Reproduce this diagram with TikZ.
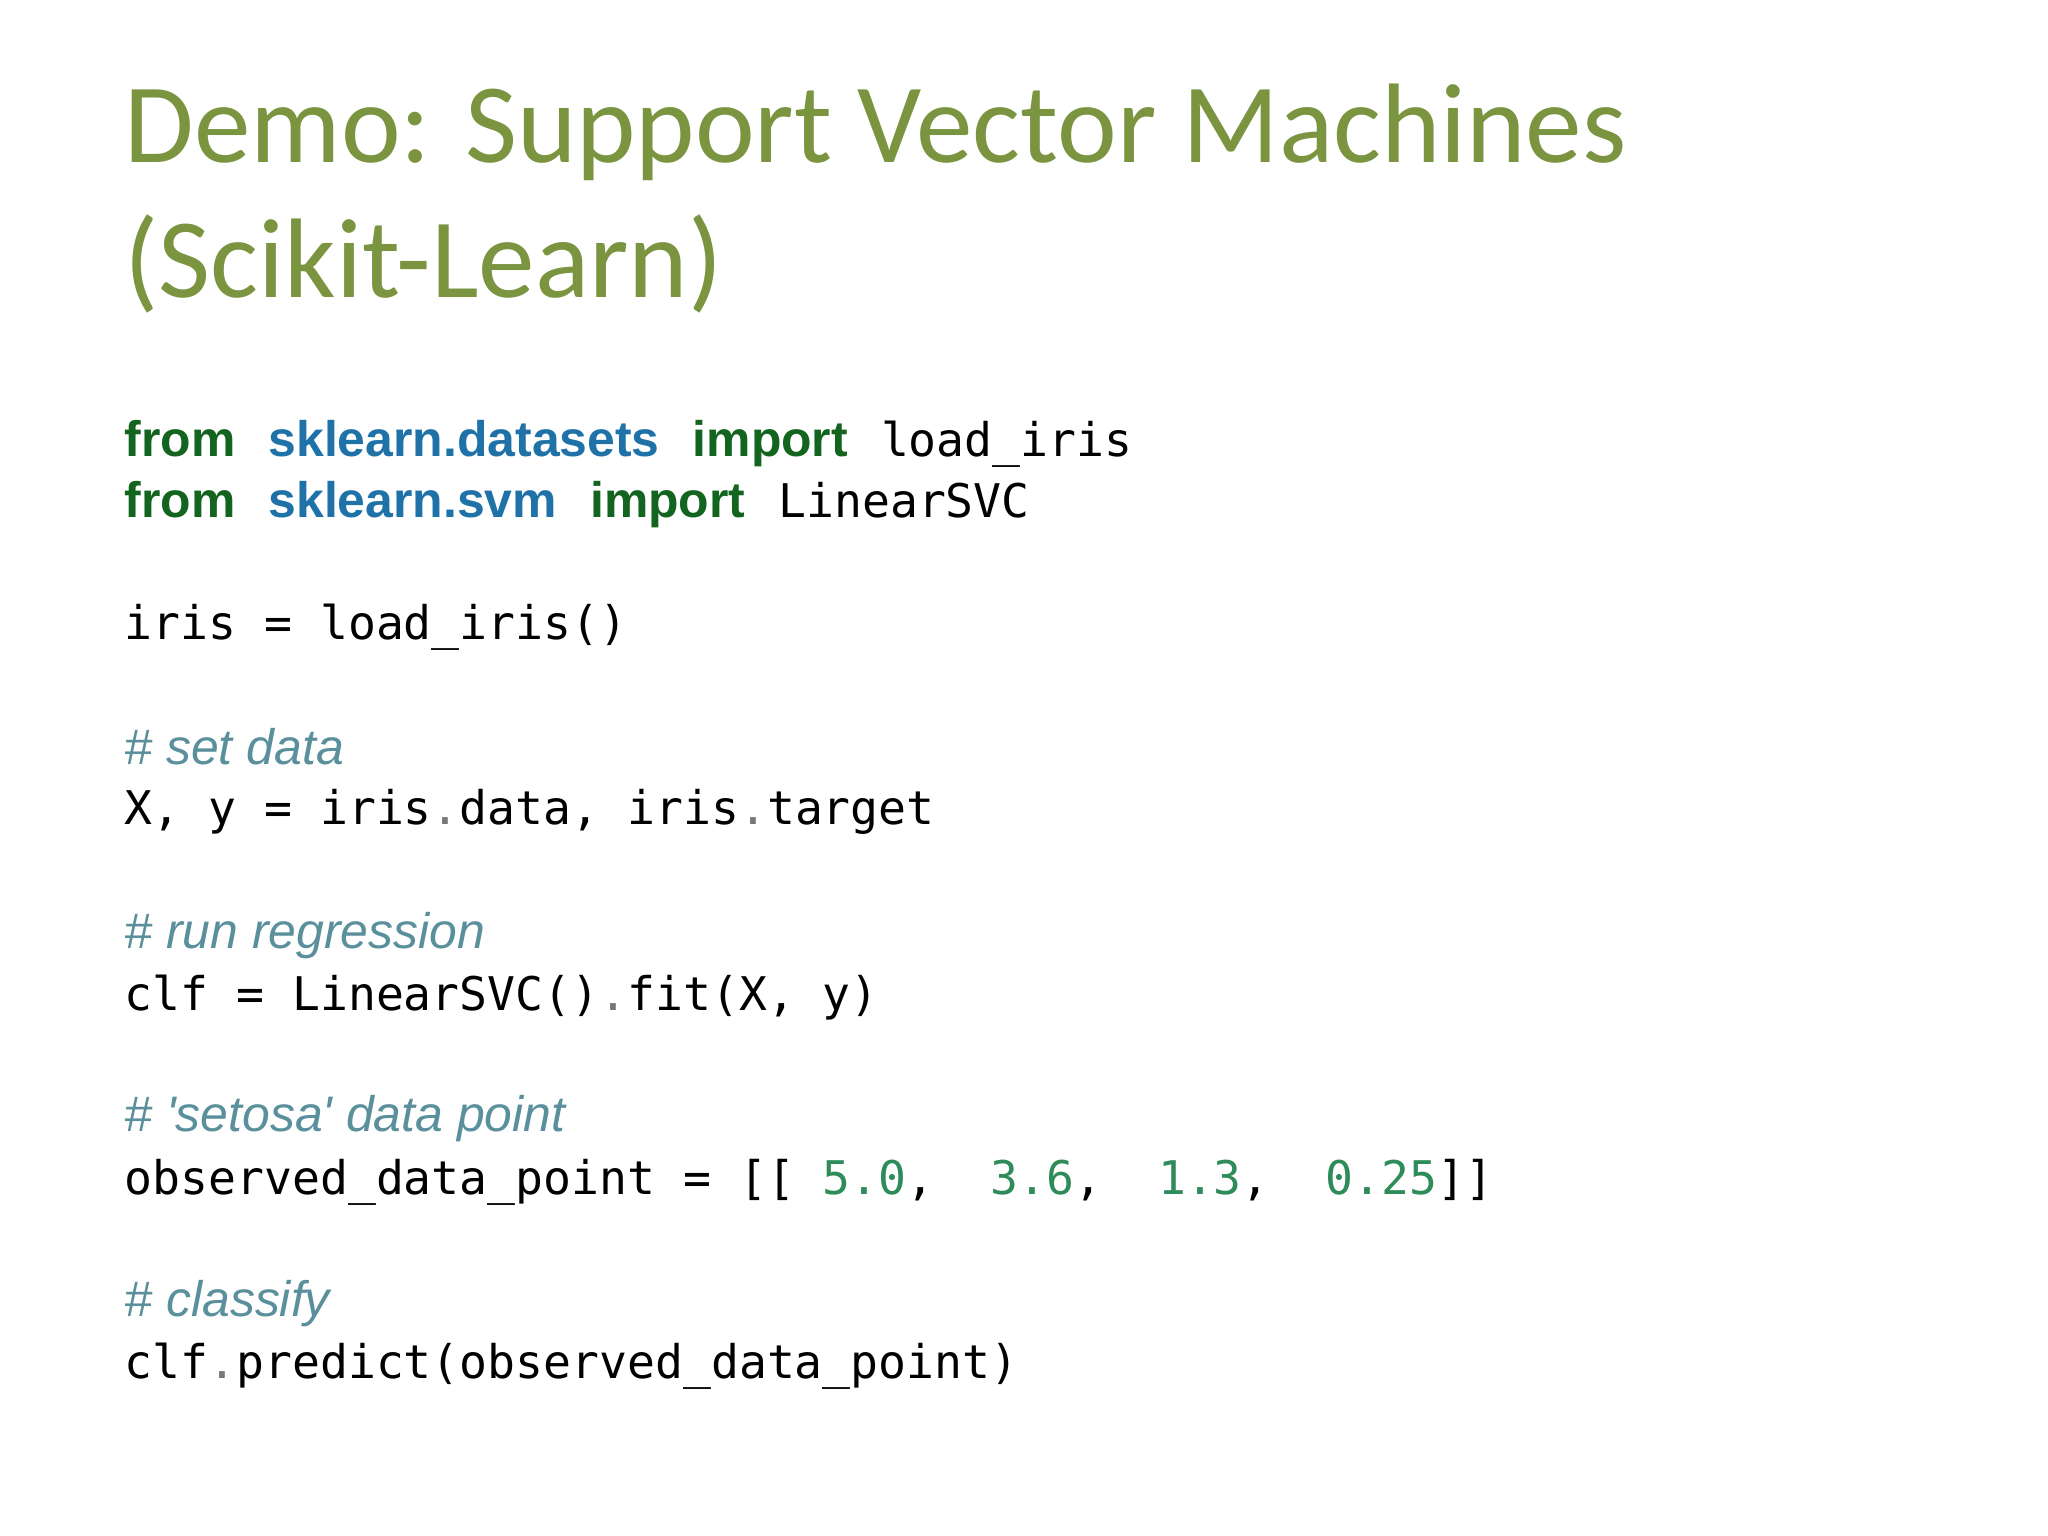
\documentclass[tikz,border=0pt]{standalone}
\usepackage{fontspec}
\setmainfont{Carlito}
\newfontfamily\codefont{DejaVu Sans Mono}
\newfontfamily\kwfont{Liberation Sans}
\definecolor{titlec}{HTML}{7A9440}
\definecolor{kwc}{HTML}{12641E}
\definecolor{modc}{HTML}{1F72A8}
\definecolor{cmc}{HTML}{5A8F9C}
\definecolor{numc}{HTML}{2E8B5A}
\definecolor{dotc}{HTML}{777777}
\newcommand{\kw}[1]{{\kwfont\bfseries\color{kwc}#1}}
\newcommand{\md}[1]{{\kwfont\bfseries\color{modc}#1}}
\newcommand{\nm}[1]{{\color{numc}#1}}
\newcommand{\dt}{{\color{dotc}.}}
\tikzset{
  ttl/.style={anchor=base west,inner sep=0pt,font=\fontsize{32.2}{40}\selectfont,text=titlec},
  code/.style={anchor=base west,inner sep=0pt,font=\codefont\fontsize{13.2}{16}\selectfont},
  cmt/.style={anchor=base west,inner sep=0pt,font=\kwfont\itshape\fontsize{14.2}{17}\selectfont,text=cmc},
  kwl/.style={anchor=base west,inner sep=0pt,font=\fontsize{14.2}{17}\selectfont}
}
\begin{document}
\begin{tikzpicture}
\useasboundingbox[fill=white] (0,0) rectangle (20.48,-15.36);
\node[ttl] (t1) at (1.24,-1.63) {Demo: Support Vector Machines};
\node[ttl] (t2) at (1.24,-2.98) {(Scikit-Learn)};
\node[kwl] (l1) at (1.24,-4.57) {\kw{from}\hspace{0.33cm}\md{sklearn.datasets}\hspace{0.33cm}\kw{import}\hspace{0.33cm}{\codefont\fontsize{13.2}{16}\selectfont load\_iris}};
\node[kwl] (l2) at (1.24,-5.18) {\kw{from}\hspace{0.33cm}\md{sklearn.svm}\hspace{0.33cm}\kw{import}\hspace{0.33cm}{\codefont\fontsize{13.2}{16}\selectfont LinearSVC}};
\node[code] (l3) at (1.24,-6.40) {iris = load\_iris()};
\node[cmt] (c1) at (1.24,-7.64) {\# set data};
\node[code] (l4) at (1.24,-8.25) {X, y = iris\dt data, iris\dt target};
\node[cmt] (c2) at (1.24,-9.48) {\# run regression};
\node[code] (l5) at (1.24,-10.10) {clf = LinearSVC()\dt fit(X, y)};
\node[cmt] (c3) at (1.24,-11.31) {\# 'setosa' data point};
\node[code] (l6) at (1.24,-11.94) {observed\_data\_point = [[ \nm{5.0},\ \ \nm{3.6},\ \ \nm{1.3},\ \ \nm{0.25}]]};
\node[cmt] (c4) at (1.24,-13.16) {\# classify};
\node[code] (l7) at (1.24,-13.78) {clf\dt predict(observed\_data\_point)};
\end{tikzpicture}
\end{document}
